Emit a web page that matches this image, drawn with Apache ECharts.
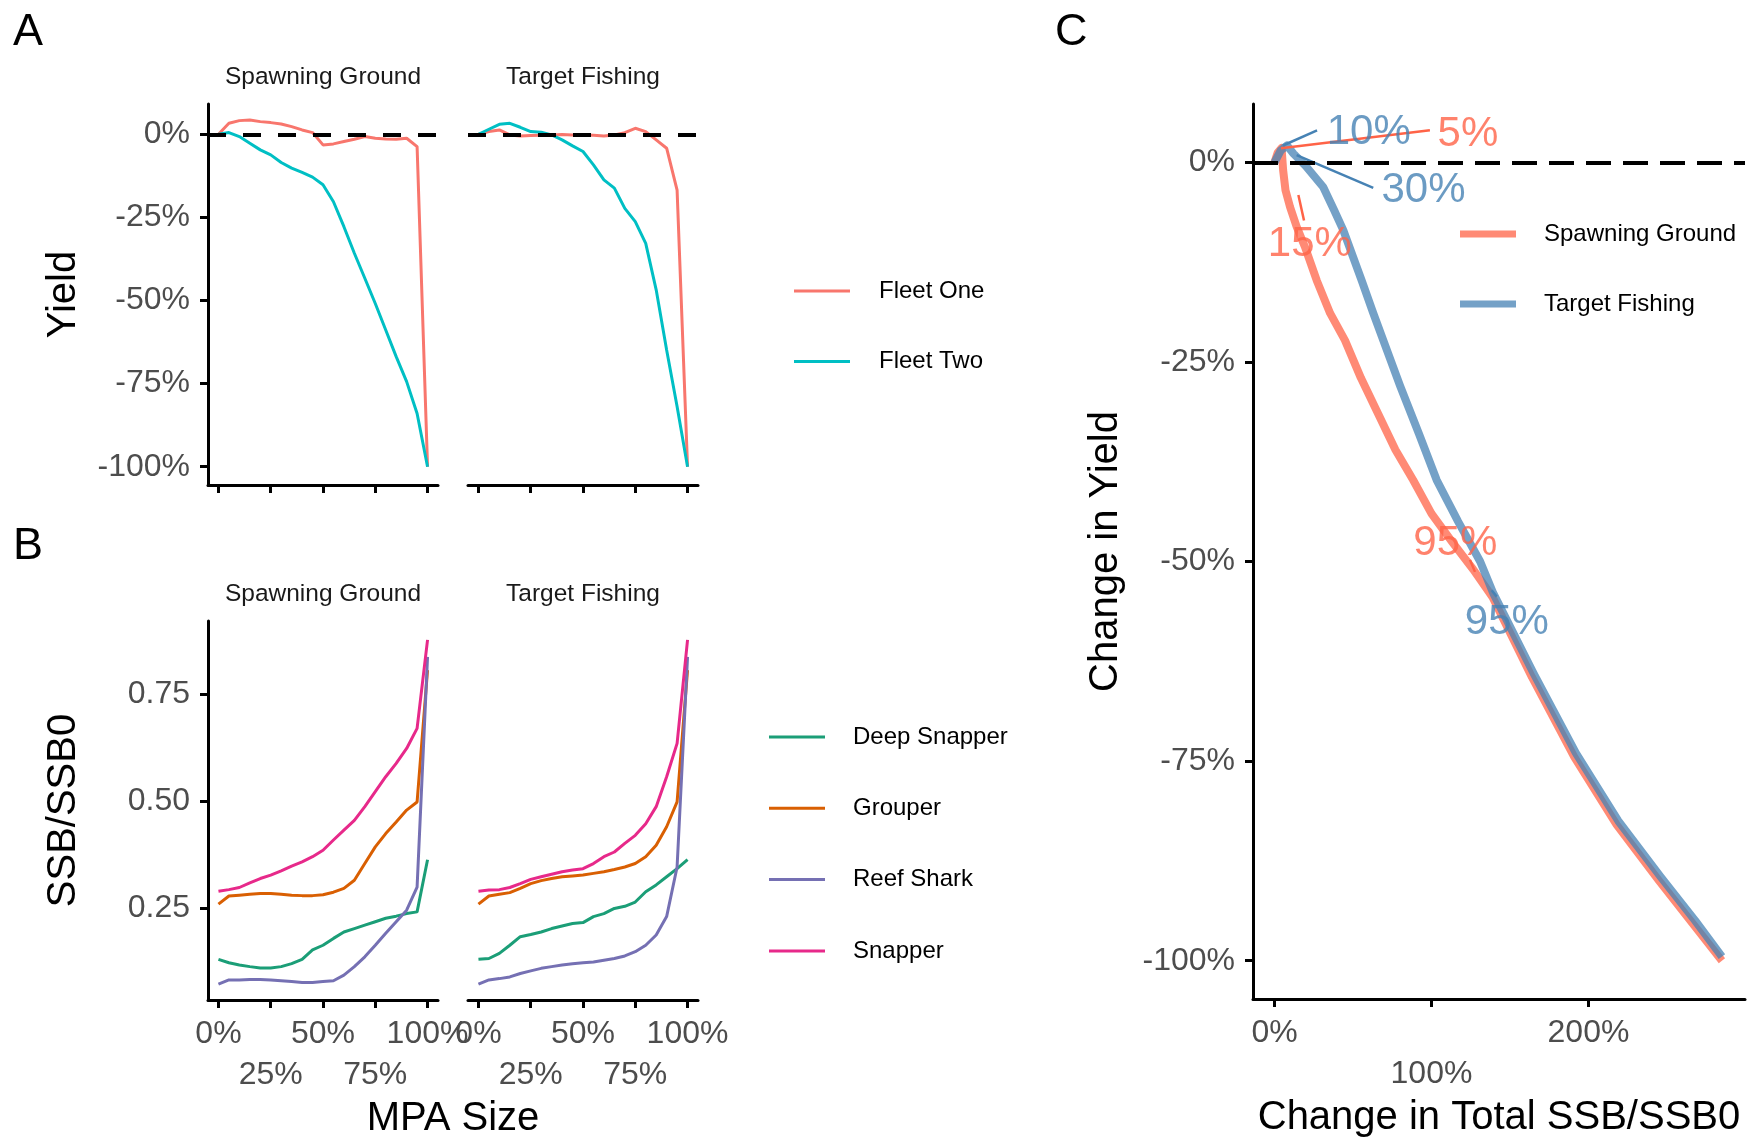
<!DOCTYPE html>
<html>
<head>
<meta charset="utf-8">
<script src="https://cdn.jsdelivr.net/npm/echarts@6/dist/echarts.min.js"></script>
<style>
html,body{margin:0;padding:0;background:#fff;}
#chart{width:1754px;height:1138px;}
</style>
</head>
<body>
<div id="chart"></div>
<script>
// ---------- DATA ----------
const mpaSize = [0,5,10,15,20,25,30,35,40,45,50,55,60,65,70,75,80,85,90,95,100];
const facetNames = ['Spawning Ground', 'Target Fishing'];
const fleetNames = ['Fleet One', 'Fleet Two'];
const speciesNames = ['Deep Snapper', 'Grouper', 'Reef Shark', 'Snapper'];
const scenarioNames = ['Spawning Ground', 'Target Fishing'];

// Panel A: change in yield (%)
const fleetOneSpawning = [0,3.3,4.1,4.3,3.8,3.5,3.1,2.3,1.3,0.5,-3.2,-2.9,-2.2,-1.5,-0.7,-1.2,-1.4,-1.5,-1.2,-3.7,-100];
const fleetTwoSpawning = [0,0.5,-0.7,-2.7,-4.7,-6.2,-8.5,-10.2,-11.5,-12.9,-15.2,-20.3,-27.8,-35.8,-43.3,-50.9,-58.9,-66.9,-74.4,-84,-100];
const fleetOneTarget   = [0,0.8,1.3,-0.2,-0.5,-0.4,-0.3,-0.2,-0.1,-0.2,-0.2,-0.3,-0.5,-0.2,0.5,1.8,0.8,-1.7,-4.2,-16.8,-100];
const fleetTwoTarget   = [0,1.5,3.0,3.3,2.1,0.8,0.6,-0.2,-1.7,-3.5,-5.2,-9.2,-13.7,-16.2,-22.3,-26.3,-32.8,-46.8,-64.9,-81.9,-100];

// Panel B: SSB/SSB0
const deepSnapperSpawning = [0.131,0.123,0.118,0.114,0.111,0.111,0.114,0.121,0.131,0.153,0.164,0.180,0.195,0.203,0.211,0.219,0.227,0.232,0.238,0.242,0.364];
const grouperSpawning     = [0.260,0.279,0.281,0.283,0.285,0.285,0.283,0.281,0.280,0.280,0.282,0.288,0.297,0.316,0.355,0.394,0.425,0.452,0.480,0.499,0.807];
const reefSharkSpawning   = [0.073,0.083,0.083,0.084,0.084,0.083,0.081,0.079,0.077,0.077,0.079,0.081,0.094,0.114,0.137,0.164,0.192,0.219,0.246,0.300,0.838];
const snapperSpawning     = [0.290,0.294,0.299,0.310,0.320,0.328,0.338,0.349,0.359,0.371,0.386,0.410,0.433,0.456,0.488,0.523,0.558,0.589,0.624,0.671,0.878];
const deepSnapperTarget   = [0.131,0.133,0.145,0.164,0.184,0.189,0.195,0.203,0.209,0.215,0.217,0.231,0.238,0.250,0.255,0.265,0.289,0.305,0.324,0.343,0.364];
const grouperTarget       = [0.260,0.279,0.283,0.287,0.297,0.308,0.315,0.320,0.324,0.326,0.328,0.332,0.336,0.341,0.347,0.355,0.371,0.398,0.441,0.499,0.807];
const reefSharkTarget     = [0.073,0.083,0.086,0.090,0.098,0.104,0.110,0.114,0.118,0.121,0.123,0.125,0.129,0.133,0.139,0.149,0.164,0.188,0.231,0.347,0.838];
const snapperTarget       = [0.290,0.293,0.294,0.299,0.308,0.318,0.324,0.330,0.336,0.340,0.343,0.355,0.371,0.382,0.402,0.421,0.448,0.488,0.558,0.636,0.878];

// Panel C: change in total SSB/SSB0 (%) vs change in yield (%)
const ssbChangeSpawning   = [0,2,4.5,5.5,7,9.9,14,19.4,26.9,35.4,44.9,55,66,77,88.3,100,113,126.6,139,164,191,218,245,267,285];
const yieldChangeSpawning = [0,1.2,1.8,-1,-3.5,-5.6,-8,-10.6,-14.8,-18.9,-22.3,-27,-31.5,-36,-39.8,-44,-47.5,-51,-54.5,-64.5,-74.5,-83,-90,-95.5,-100];
const ssbChangeTarget     = [0,4,8,12,20,31,38,43.8,55.5,62.9,69.3,80,92,103.3,117,131,139.4,165,192,219,246,268,285];
const yieldChangeTarget   = [0,1.5,2.1,1.1,-0.5,-3.1,-6,-8.5,-14.8,-18.9,-22.3,-28,-34,-39.8,-45,-50,-54,-64,-74,-82.5,-89.5,-95,-99.5];

// Panel C annotations: MPA size labels (label anchor, connector start, connector end)
const annotText     = ['5%','10%','30%','15%','95%','95%'];
const annotScenario = [0,1,1,0,0,1];
const annotLabelX   = [123.2,60,94.9,22.5,115.2,148];
const annotLabelY   = [3.5,3.75,-3.5,-10.25,-47.8,-57.6];
const annotFromX    = [4.1,5.4,14.1,15.2,124.5,138.3];
const annotFromY    = [1.75,2.1,0.9,-4.1,-49.8,-53.6];
const annotToX      = [99,27.1,62.9,18.8,127.7,141.5];
const annotToY      = [4.0,4.0,-3.2,-7.3,-51.3,-54.4];

// Tick labels
const mpaTicks = [0,25,50,75,100];
const mpaTicksRow1 = [0,50,100];
const mpaTicksRow2 = [25,75];
const yieldTicks = [-100,-75,-50,-25,0];
const ssbTicks = [0.25,0.5,0.75];
const ssbChangeTicks = [0,100,200];
const ssbChangeTicksRow1 = [0,200];
const ssbChangeTicksRow2 = [100];
const yieldChangeTicks = [-100,-75,-50,-25,0];

// ---------- STYLE ----------
const FONT = '"Liberation Sans", Arial, Helvetica, sans-serif';
const fleetColors = ['#F8766D', '#00BFC4'];
const speciesColors = ['#1B9E77', '#D95F02', '#7570B3', '#E7298A'];
const scenarioColors = ['#FF6347', '#4682B4'];
const tickFont = {fontSize: 32, color: '#4D4D4D', fontFamily: FONT};

const chart = echarts.init(document.getElementById('chart'), null, {renderer: 'canvas'});

const grids = [
  {left: 208, top: 104, width: 230, height: 381},
  {left: 468, top: 104, width: 230, height: 381},
  {left: 208, top: 621, width: 230, height: 379},
  {left: 468, top: 621, width: 230, height: 379},
  {left: 1253, top: 104, width: 492, height: 895}
].map(g => Object.assign({containLabel: false, outerBoundsMode: 'none'}, g));

function xAx(grid, opts) {
  return Object.assign({
    type: 'value', gridIndex: grid, min: -5, max: 105, position: 'bottom', offset: 0,
    splitLine: {show: false},
    axisLine: {show: true, onZero: false, lineStyle: {color: '#000', width: 3}},
    axisTick: {show: true, length: 8, lineStyle: {color: '#000', width: 3}, customValues: mpaTicks},
    axisLabel: {show: false}
  }, opts);
}
function rowLabels(values, margin) {
  return {show: true, customValues: values, margin: margin, formatter: v => v + '%', ...tickFont};
}
function hiddenAxisParts() {
  return {axisLine: {show: false, onZero: false}, axisTick: {show: false}};
}

const xAxes = [
  xAx(0, {}),
  xAx(1, {}),
  xAx(2, {axisLabel: rowLabels(mpaTicksRow1, 18)}),
  xAx(2, Object.assign(hiddenAxisParts(), {axisLabel: rowLabels(mpaTicksRow2, 59)})),
  xAx(3, {axisLabel: rowLabels(mpaTicksRow1, 18)}),
  xAx(3, Object.assign(hiddenAxisParts(), {axisLabel: rowLabels(mpaTicksRow2, 59)})),
  xAx(4, {min: -13.7, max: 299.7,
    axisTick: {show: true, length: 8, lineStyle: {color: '#000', width: 3}, customValues: ssbChangeTicks},
    axisLabel: rowLabels(ssbChangeTicksRow1, 18),
    name: 'Change in Total SSB/SSB0', nameLocation: 'middle', nameGap: 99,
    nameTextStyle: {fontSize: 40, color: '#000', fontFamily: FONT}}),
  xAx(4, Object.assign(hiddenAxisParts(), {min: -13.7, max: 299.7, axisLabel: rowLabels(ssbChangeTicksRow2, 59)}))
];

function yAx(grid, min, max, ticks, fmt, name, show, gap) {
  const a = {
    type: 'value', gridIndex: grid, min: min, max: max, position: 'left',
    splitLine: {show: false},
    axisLine: {show: show, onZero: false, lineStyle: {color: '#000', width: 3}},
    axisTick: {show: show, length: 8, lineStyle: {color: '#000', width: 3}, customValues: ticks},
    axisLabel: {show: show, customValues: ticks, margin: 18, formatter: fmt, padding: [7, 0, 0, 0], ...tickFont}
  };
  if (name) {
    a.name = name; a.nameLocation = 'middle'; a.nameGap = gap; a.nameRotate = 90;
    a.nameTextStyle = {fontSize: 40, color: '#000', fontFamily: FONT};
  }
  return a;
}
const pct = v => v + '%';
const yAxes = [
  yAx(0, -105.5, 9.1, yieldTicks, pct, 'Yield', true, 124),
  yAx(1, -105.5, 9.1, yieldTicks, pct, null, false),
  yAx(2, 0.036, 0.922, ssbTicks, v => v.toFixed(2), 'SSB/SSB0', true, 124),
  yAx(3, 0.036, 0.922, ssbTicks, v => v.toFixed(2), null, false),
  yAx(4, -104.8, 7.3, yieldChangeTicks, pct, 'Change in Yield', true, 127)
];

const zeroLine = (dash) => ({
  silent: true, symbol: ['none', 'none'], label: {show: false},
  lineStyle: {type: dash, width: 4, color: '#000'},
  data: [{yAxis: 0}], z: 10
});

const series = [];
function addLine(name, xIdx, yIdx, xs, ys, color, width, extra) {
  series.push(Object.assign({
    name: name, type: 'line', xAxisIndex: xIdx, yAxisIndex: yIdx,
    data: xs.map((x, i) => [x, ys[i]]),
    showSymbol: false, symbol: 'none', animation: false,
    lineStyle: {color: color, width: width},
    itemStyle: {color: color}
  }, extra || {}));
}

// Panel A
addLine(fleetNames[0], 0, 0, mpaSize, fleetOneSpawning, fleetColors[0], 3);
addLine(fleetNames[1], 0, 0, mpaSize, fleetTwoSpawning, fleetColors[1], 3, {markLine: zeroLine([18, 17])});
addLine(fleetNames[0], 1, 1, mpaSize, fleetOneTarget, fleetColors[0], 3);
addLine(fleetNames[1], 1, 1, mpaSize, fleetTwoTarget, fleetColors[1], 3, {markLine: zeroLine([18, 17])});

// Panel B
const bSp = [deepSnapperSpawning, grouperSpawning, reefSharkSpawning, snapperSpawning];
const bTf = [deepSnapperTarget, grouperTarget, reefSharkTarget, snapperTarget];
speciesNames.forEach((n, i) => addLine(n, 2, 2, mpaSize, bSp[i], speciesColors[i], 3));
speciesNames.forEach((n, i) => addLine(n, 4, 3, mpaSize, bTf[i], speciesColors[i], 3));

// Panel C
addLine(scenarioNames[0], 6, 4, ssbChangeSpawning, yieldChangeSpawning, scenarioColors[0], 8,
  {lineStyle: {color: scenarioColors[0], width: 8, opacity: 0.75, join: 'round'}, markLine: zeroLine([25, 12]), z: 3});
addLine(scenarioNames[1], 6, 4, ssbChangeTarget, yieldChangeTarget, scenarioColors[1], 8,
  {lineStyle: {color: scenarioColors[1], width: 8, opacity: 0.75, join: 'round'}, z: 4});

// Panel C annotations
annotText.forEach((t, i) => {
  const c = scenarioColors[annotScenario[i]];
  series.push({
    type: 'line', xAxisIndex: 6, yAxisIndex: 4, silent: true, animation: false,
    showSymbol: false, symbol: 'none', z: 6,
    data: [[annotFromX[i], annotFromY[i]], [annotToX[i], annotToY[i]]],
    lineStyle: {color: c, width: 2.5}
  });
});
series.push({
  type: 'scatter', xAxisIndex: 6, yAxisIndex: 4, silent: true, animation: false,
  symbolSize: 1, itemStyle: {color: 'rgba(0,0,0,0)'}, z: 7,
  data: annotText.map((t, i) => ({name: t, value: [annotLabelX[i], annotLabelY[i]],
    label: {color: scenarioColors[annotScenario[i]]}})),
  label: {show: true, position: 'inside', formatter: '{b}', fontSize: 42, fontFamily: FONT}
});

const legendText = {fontSize: 24, color: '#000', fontFamily: FONT, lineHeight: 24};
const option = {
  backgroundColor: '#fff',
  animation: false,
  grid: grids,
  xAxis: xAxes,
  yAxis: yAxes,
  series: series,
  legend: [
    {data: fleetNames, orient: 'vertical', left: 789, top: 274, icon: 'rect',
     itemWidth: 56, itemHeight: 3, itemGap: 46.6, selectedMode: false,
     textStyle: Object.assign({padding: [0, 0, 0, 24]}, legendText)},
    {data: speciesNames, orient: 'vertical', left: 764, top: 720, icon: 'rect',
     itemWidth: 56, itemHeight: 3, itemGap: 47.3, selectedMode: false,
     textStyle: Object.assign({padding: [0, 0, 0, 23]}, legendText)},
    {data: scenarioNames, orient: 'vertical', left: 1455, top: 217, icon: 'rect',
     itemWidth: 56, itemHeight: 7, itemGap: 46, selectedMode: false,
     itemStyle: {opacity: 0.75},
     textStyle: Object.assign({padding: [0, 0, 0, 23]}, legendText)}
  ],
  graphic: [
    {type: 'text', left: 13, top: 10, style: {text: 'A', fontSize: 45, fill: '#000', fontFamily: FONT}},
    {type: 'text', left: 13, top: 524, style: {text: 'B', fontSize: 45, fill: '#000', fontFamily: FONT}},
    {type: 'text', left: 1055, top: 10, style: {text: 'C', fontSize: 45, fill: '#000', fontFamily: FONT}},
    {type: 'text', x: 323, y: 77, style: {text: facetNames[0], fontSize: 24.5, fill: '#1A1A1A', fontFamily: FONT, align: 'center', verticalAlign: 'middle'}},
    {type: 'text', x: 583, y: 77, style: {text: facetNames[1], fontSize: 24.5, fill: '#1A1A1A', fontFamily: FONT, align: 'center', verticalAlign: 'middle'}},
    {type: 'text', x: 323, y: 594, style: {text: facetNames[0], fontSize: 24.5, fill: '#1A1A1A', fontFamily: FONT, align: 'center', verticalAlign: 'middle'}},
    {type: 'text', x: 583, y: 594, style: {text: facetNames[1], fontSize: 24.5, fill: '#1A1A1A', fontFamily: FONT, align: 'center', verticalAlign: 'middle'}},
    {type: 'text', x: 453, y: 1119, style: {text: 'MPA Size', fontSize: 40, fill: '#000', fontFamily: FONT, align: 'center', verticalAlign: 'middle'}}
  ]
};
chart.setOption(option);
</script>
</body>
</html>
